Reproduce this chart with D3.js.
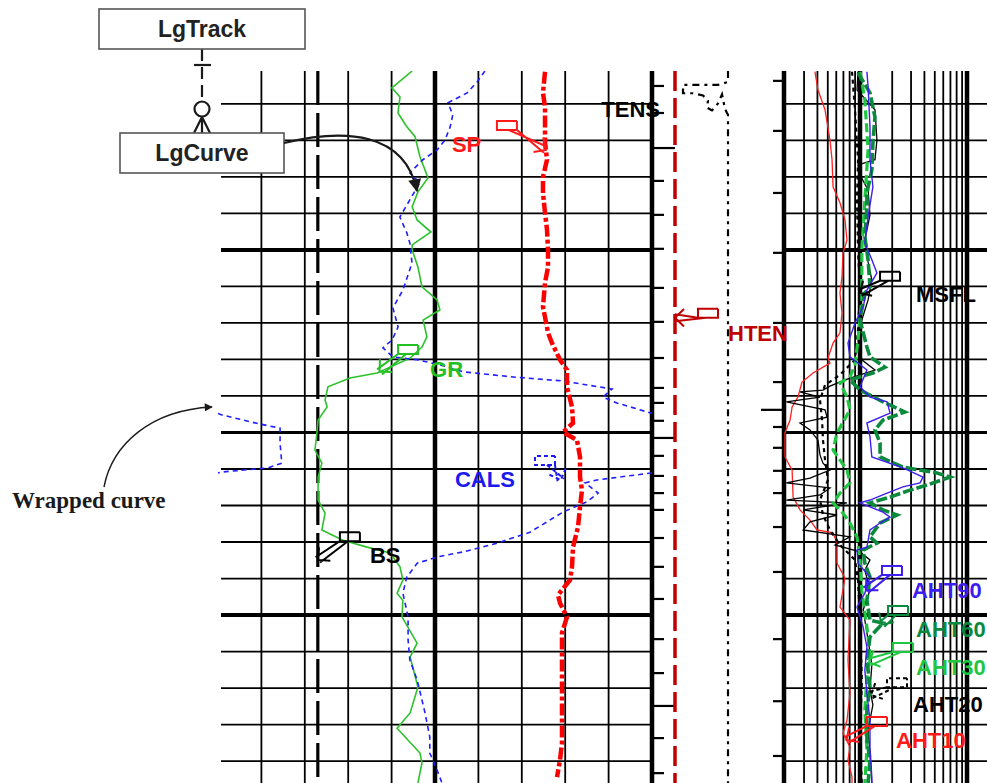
<!DOCTYPE html>
<html><head><meta charset="utf-8">
<script src="https://cdn.jsdelivr.net/npm/d3@7"></script>
<style>body{margin:0;background:#fff}svg{display:block}</style>
</head><body>
<svg id="c" width="987" height="783"></svg>
<script>
// ---------------- DATA ----------------
// depth (ft), value
const GR = [[1051.0,67.1],[1055.6,60.1],[1058.1,62.9],[1062.5,62.2],[1066.0,65.0],[1069.0,68.1],[1074.5,69.8],[1080.3,72.6],[1084.1,69.1],[1088.2,67.1],[1091.8,68.8],[1095.1,73.6],[1098.6,67.1],[1100.0,67.1],[1104.7,69.1],[1110.1,70.5],[1113.7,75.7],[1116.4,76.7],[1119.2,70.9],[1123.8,72.2],[1126.6,70.5],[1129.6,66.4],[1132.1,59.5],[1133.7,55.0],[1135.1,45.6],[1137.5,38.0],[1141.1,37.0],[1143.0,37.7],[1146.6,34.6],[1150.1,34.2],[1154.8,33.5],[1158.4,35.9],[1162.2,34.6],[1168.5,34.6],[1172.1,37.0],[1176.7,35.9],[1179.5,43.2],[1181.4,51.5],[1183.0,59.5],[1186.8,62.9],[1190.4,63.9],[1194.0,61.9],[1196.0,63.9],[1200.5,63.6],[1207.7,68.8],[1211.5,66.4],[1219.7,69.1],[1226.8,66.4],[1231.0,61.9],[1237.8,69.8],[1240.5,70.5],[1246.0,69.1]];
const CALS = [[1051.0,12.15],[1054.0,11.97],[1057.0,11.74],[1059.7,11.30],[1063.0,11.41],[1066.3,11.35],[1069.9,11.23],[1072.6,11.05],[1075.3,10.72],[1078.9,10.42],[1081.6,10.65],[1086.3,10.42],[1091.0,10.19],[1095.3,10.35],[1098.1,10.42],[1103.6,10.47],[1111.0,10.26],[1115.9,10.03],[1121.1,10.15],[1124.7,10.01],[1126.8,9.80],[1129.3,10.03],[1130.1,10.59],[1131.5,11.12],[1133.4,11.65],[1134.8,12.80],[1135.9,13.95],[1138.1,15.08],[1140.3,14.87],[1141.9,15.19],[1144.7,15.98],[1145.2,16.09],[1147.7,16.97],[1148.8,17.43],[1152.9,17.43],[1158.4,17.47],[1159.7,17.15],[1160.8,16.12],[1161.1,15.98],[1163.0,14.73],[1163.8,14.46],[1166.6,14.76],[1169.0,14.50],[1171.8,13.95],[1177.3,13.19],[1180.3,12.43],[1182.7,11.65],[1184.1,11.05],[1185.8,10.59],[1189.6,10.35],[1194.0,10.26],[1200.5,10.38],[1206.8,10.38],[1212.3,10.42],[1217.8,10.59],[1226.8,10.77],[1233.4,10.88],[1237.8,10.88],[1242.5,11.05],[1246.0,11.16]];
const SP = [[1051.2,-4.65],[1057.0,-5.12],[1060.8,-4.65],[1066.3,-4.65],[1070.7,-4.65],[1075.3,-4.19],[1080.0,-5.12],[1084.4,-5.12],[1089.9,-4.65],[1094.5,-4.19],[1100.0,-3.96],[1104.7,-3.96],[1109.0,-4.65],[1115.6,-5.12],[1118.4,-4.65],[1122.7,-3.96],[1125.5,-3.04],[1130.1,-1.20],[1132.9,0.41],[1137.5,0.41],[1143.0,1.57],[1147.4,1.80],[1149.9,-0.51],[1152.1,2.72],[1156.7,3.41],[1162.2,3.41],[1165.8,3.87],[1170.4,3.41],[1175.9,2.95],[1181.4,1.80],[1186.8,1.57],[1190.4,1.11],[1194.5,-1.66],[1196.7,-1.20],[1200.5,0.41],[1204.9,-0.74],[1211.5,-0.74],[1217.0,-0.74],[1224.1,-0.74],[1229.6,-0.74],[1235.1,-0.74],[1239.7,-1.20],[1244.4,-1.89]];
const BS = [[1051.0,8.3],[1246.0,8.3]];
const HTEN = [[1051.0,871],[1246.0,871]];
const TENS = [[1051.0,2879],[1054.0,2879],[1054.8,2500],[1054.8,1174],[1057.1,1174],[1057.1,1553],[1057.7,1932],[1059.1,2121],[1061.0,2083],[1061.8,2273],[1059.9,2500],[1057.4,2652],[1061.4,2765],[1062.5,2841],[1063.0,2879],[1246.0,2879]];
const AHT10 = [[1051.2,3.79],[1056.2,4.05],[1061.6,4.71],[1069.9,5.24],[1075.3,5.48],[1082.7,5.60],[1087.1,6.50],[1091.8,7.24],[1097.3,7.56],[1100.8,6.94],[1107.4,6.79],[1111.8,6.50],[1117.3,6.79],[1122.7,6.50],[1125.5,5.60],[1129.6,5.02],[1131.0,5.24],[1133.7,3.64],[1136.2,2.87],[1140.3,2.63],[1143.0,2.32],[1146.6,2.22],[1150.1,1.99],[1156.7,1.99],[1160.3,2.32],[1167.7,2.37],[1171.2,2.75],[1174.0,3.41],[1176.7,3.96],[1177.5,5.60],[1180.3,6.10],[1185.8,6.10],[1189.9,7.24],[1197.8,6.50],[1201.4,8.06],[1212.3,7.72],[1221.4,8.06],[1228.8,7.56],[1232.3,6.94],[1236.2,8.06],[1239.7,7.72],[1244.4,8.42],[1246.0,8.42]];
const AHT20 = [[1051.2,9.58],[1056.2,9.38],[1061.6,13.8],[1069.9,14.4],[1075.3,13.8],[1076.7,9.58],[1079.5,10.0],[1083.6,11.9],[1090.4,12.4],[1097.3,11.1],[1103.3,11.9],[1108.2,12.9],[1113.7,11.9],[1119.2,10.4],[1124.7,9.58],[1130.1,10.4],[1132.9,13.8],[1134.2,10.0],[1135.6,7.24],[1137.3,5.24],[1138.4,4.51],[1138.9,2.75],[1140.3,4.23],[1141.6,2.05],[1143.8,4.71],[1145.8,4.92],[1147.4,2.75],[1149.3,3.41],[1152.1,4.05],[1156.2,4.23],[1158.4,4.51],[1160.3,5.24],[1162.5,3.41],[1163.8,2.05],[1165.2,5.24],[1167.1,4.23],[1168.5,2.05],[1169.3,7.56],[1171.2,2.94],[1172.6,6.10],[1174.5,3.41],[1176.7,2.94],[1178.6,8.06],[1180.8,5.85],[1182.7,10.0],[1184.9,12.4],[1187.7,11.1],[1193.2,12.4],[1198.6,10.7],[1206.8,11.9],[1213.6,12.9],[1220.5,12.4],[1224.6,13.2],[1231.5,11.9],[1238.3,12.4],[1246.0,12.9]];
const AHT30 = [[1051.2,10.0],[1058.9,11.1],[1072.6,11.9],[1086.3,11.1],[1100.0,10.4],[1113.7,10.4],[1124.7,9.58],[1131.5,8.98],[1134.8,8.06],[1136.4,6.50],[1140.3,7.56],[1143.8,8.06],[1150.1,6.10],[1154.8,5.60],[1160.3,7.56],[1163.8,8.06],[1166.6,6.50],[1169.3,5.60],[1172.1,6.94],[1174.8,8.06],[1178.6,9.38],[1184.9,10.0],[1193.2,10.4],[1203.3,11.6],[1210.4,12.4],[1217.0,11.6],[1226.0,11.1],[1237.0,11.6],[1246.0,11.1]];
const AHT60 = [[1051.5,9.58],[1057.0,12.4],[1063.6,13.8],[1070.7,13.2],[1078.1,12.9],[1084.4,11.6],[1088.2,11.6],[1096.4,11.1],[1102.7,11.9],[1110.1,12.4],[1111.8,11.1],[1119.2,10.0],[1126.6,11.6],[1129.3,12.4],[1132.1,17.1],[1133.7,13.2],[1135.6,8.06],[1138.4,10.0],[1141.6,16.4],[1144.4,26.3],[1146.6,16.4],[1149.3,13.8],[1152.9,15.4],[1156.7,15.4],[1159.5,25.2],[1161.1,52.4],[1162.2,69.4],[1164.4,42.3],[1165.8,29.3],[1167.7,19.1],[1169.3,12.4],[1171.2,16.4],[1172.6,22.2],[1174.8,15.4],[1178.6,12.4],[1180.3,14.4],[1182.2,10.7],[1185.8,11.1],[1189.6,12.4],[1195.9,11.6],[1201.4,12.4],[1202.2,16.4],[1206.0,12.4],[1212.3,11.6],[1219.7,12.4],[1226.0,11.6],[1234.2,11.6],[1239.7,12.4],[1246.0,11.9]];
const AHT90 = [[1051.2,11.6],[1055.3,11.9],[1066.3,12.4],[1075.3,12.4],[1082.7,13.2],[1091.0,11.9],[1098.1,11.1],[1102.7,12.9],[1106.3,14.4],[1111.0,11.6],[1115.6,10.7],[1120.0,8.98],[1125.5,7.72],[1129.3,8.06],[1132.9,11.6],[1137.5,10.0],[1140.3,12.4],[1141.6,17.9],[1144.7,19.1],[1147.4,11.6],[1151.2,12.4],[1156.7,12.9],[1159.7,25.2],[1162.2,38.8],[1163.8,36.4],[1164.9,25.2],[1166.6,17.9],[1168.5,12.4],[1169.3,10.0],[1171.8,16.4],[1173.2,19.1],[1174.8,15.4],[1176.7,12.4],[1181.4,11.6],[1182.2,9.38],[1185.8,9.58],[1189.6,12.4],[1194.0,11.1],[1197.8,9.38],[1203.3,10.7],[1208.8,11.6],[1215.1,11.1],[1221.4,11.6],[1228.8,12.4],[1236.2,12.4],[1244.4,12.9],[1246.0,12.9]];
const MSFL = [[1051.2,8.42],[1061.6,8.98],[1075.3,9.58],[1086.3,9.38],[1100.0,9.58],[1111.0,10.0],[1121.9,9.58],[1130.1,8.98],[1134.2,6.50],[1137.0,4.71],[1141.1,4.23],[1146.6,4.42],[1152.1,4.51],[1157.5,4.71],[1163.0,5.02],[1168.5,4.23],[1172.6,4.51],[1176.7,5.24],[1180.8,6.50],[1184.9,8.98],[1190.4,9.58],[1201.4,10.0],[1217.8,10.4],[1234.2,10.0],[1246.0,10.4]];

const gridDepths = [1060,1070,1080,1090,1100,1110,1120,1130,1140,1150,1160,1170,1180,1190,1200,1210,1220,1230,1240];
const linGridValues = [7,8,9,10,11,12,13,14,15,16];           // caliper units across track 1
const logGridValues = [3,4,5,6,7,8,9,10,20,30,40,50,60,70,80,90,100,200];
const leftTickDepths = [1055.1,1062.5,1072.1,1081.1,1090.4,1099.7,1110.4,1119.7,1129.6,1137.8,1141.9,1146.8,1151.5,1156.4,1161.9,1166.6,1171.2,1178.9,1186.8,1195.6,1206.6,1215.9,1224.9,1233.7,1243.3];
const leftLongTicks = [1072.1,1151.5,1224.9];
const rightTickDepths = [1053.7,1067.4,1084.4,1100.8,1120.0,1136.2,1143.8,1148.5,1154.2,1160.5,1166.6,1175.9,1188.2,1206.6,1223.6,1238.6];
const rightLongTicks = [1143.8];

// ---------------- SCALES ----------------
const svg = d3.select("#c");
const yS = d3.scaleLinear().domain([1051, 1246]).range([71, 783]);
const T1 = [218, 652];
const grS = d3.scaleLinear().domain([0, 150]).range(T1);
const calS = d3.scaleLinear().domain([6, 16]).range(T1);
const spS = d3.scaleLinear().domain([-80, 20]).range(T1);
const tenS = d3.scaleLinear().domain([0, 5000]).range([652, 784]);
const resS = d3.scaleLog().domain([1, 100]).range([753, 967]);

const defs = svg.append("defs");
defs.append("clipPath").attr("id","t1").append("rect").attr("x",218).attr("y",71).attr("width",434).attr("height",712);
defs.append("clipPath").attr("id","t4").append("rect").attr("x",784).attr("y",71).attr("width",210).attr("height",712);
defs.append("marker").attr("id","ah").attr("viewBox","0 0 10 10").attr("refX",9).attr("refY",5)
  .attr("markerUnits","userSpaceOnUse").attr("markerWidth",15).attr("markerHeight",13).attr("orient","auto")
  .append("path").attr("d","M0,0L10,5L0,10z").attr("fill","#1a1a1a");
defs.append("marker").attr("id","ah2").attr("viewBox","0 0 10 10").attr("refX",9).attr("refY",5)
  .attr("markerUnits","userSpaceOnUse").attr("markerWidth",10).attr("markerHeight",8).attr("orient","auto")
  .append("path").attr("d","M0,0L10,5L0,10z").attr("fill","#1a1a1a");

// ---------------- GRID ----------------
const grid = svg.append("g");
gridDepths.forEach(d => {
  const w = d % 100 === 0 ? 4 : (d % 50 === 0 ? 3 : 1.8);
  grid.append("line").attr("x1",221).attr("x2",652).attr("y1",yS(d)).attr("y2",yS(d)).attr("stroke","#000").attr("stroke-width",w);
  grid.append("line").attr("x1",784).attr("x2",987).attr("y1",yS(d)).attr("y2",yS(d)).attr("stroke","#000").attr("stroke-width",w);
});
linGridValues.forEach(v => {
  const w = (v === 11 || v === 16) ? 4.5 : 1.8;
  grid.append("line").attr("x1",calS(v)).attr("x2",calS(v)).attr("y1",71).attr("y2",783).attr("stroke","#000").attr("stroke-width",w);
});
logGridValues.forEach(v => {
  const w = (v === 10 || v === 100) ? 4.5 : 1.8;
  grid.append("line").attr("x1",resS(v)).attr("x2",resS(v)).attr("y1",71).attr("y2",783).attr("stroke","#000").attr("stroke-width",w);
});
grid.append("line").attr("x1",784).attr("x2",784).attr("y1",71).attr("y2",783).attr("stroke","#000").attr("stroke-width",4.5);
leftTickDepths.forEach(d => {
  const L = leftLongTicks.includes(d) ? 23 : 12;
  grid.append("line").attr("x1",652).attr("x2",652+L).attr("y1",yS(d)).attr("y2",yS(d)).attr("stroke","#000").attr("stroke-width",2.2);
});
rightTickDepths.forEach(d => {
  const L = rightLongTicks.includes(d) ? 23 : 11;
  grid.append("line").attr("x1",784).attr("x2",784-L).attr("y1",yS(d)).attr("y2",yS(d)).attr("stroke","#000").attr("stroke-width",2.2);
});

// ---------------- CURVES ----------------
function wrapSegments(data, lo, hi) {
  const R = hi - lo, segs = []; let cur = [];
  const k = v => Math.floor((v - lo) / R);
  data.forEach((p, i) => {
    const [d, v] = p;
    if (i > 0) {
      const [d0, v0] = data[i-1]; const k0 = k(v0), k1 = k(v);
      if (k0 !== k1) {
        const b = lo + Math.max(k0, k1) * R;
        const t = (b - v0) / (v - v0), db = d0 + t * (d - d0);
        cur.push([db, k1 > k0 ? hi : lo]); segs.push(cur);
        cur = [[db, k1 > k0 ? lo : hi]];
      }
    }
    cur.push([d, v - k(v) * R]);
  });
  segs.push(cur);
  return segs;
}
function valueAt(data, depth) {
  const i = d3.bisector(p => p[0]).left(data, depth);
  if (i <= 0) return data[0][1];
  if (i >= data.length) return data[data.length-1][1];
  const [d0,v0] = data[i-1], [d1,v1] = data[i];
  return v0 + (v1 - v0) * (depth - d0) / (d1 - d0);
}
const lineFor = xs => d3.line().x(p => xs(p[1])).y(p => yS(p[0]));

const g1 = svg.append("g").attr("clip-path","url(#t1)");
g1.append("path").attr("d", lineFor(calS)(BS)).attr("fill","none").attr("stroke","#000").attr("stroke-width",3.2).attr("stroke-dasharray","34,8");
g1.append("path").attr("d", lineFor(grS)(GR)).attr("fill","none").attr("stroke","#2cc22c").attr("stroke-width",1.6);
wrapSegments(CALS, 6, 16).forEach(seg => {
  g1.append("path").attr("d", lineFor(calS)(seg)).attr("fill","none").attr("stroke","#1f1fff").attr("stroke-width",1.6).attr("stroke-dasharray","5,4");
});
g1.append("path").attr("d", lineFor(spS)(SP)).attr("fill","none").attr("stroke","#ff0000").attr("stroke-width",4.5).attr("stroke-dasharray","12,3,4,3");

const g3 = svg.append("g");
g3.append("path").attr("d", lineFor(tenS)(HTEN)).attr("fill","none").attr("stroke","#c00000").attr("stroke-width",3.5).attr("stroke-dasharray","20,7");
g3.append("path").attr("d", lineFor(tenS)(TENS)).attr("fill","none").attr("stroke","#000").attr("stroke-width",2.2).attr("stroke-dasharray","7,5,3,5");

const g4 = svg.append("g").attr("clip-path","url(#t4)");
const resCurves = [
  {data:AHT10, color:"#ff2020", w:1.3, dash:null},
  {data:MSFL, color:"#000", w:2.2, dash:"4,4"},
  {data:AHT20, color:"#000", w:1.3, dash:null},
  {data:AHT30, color:"#1fc63f", w:3.2, dash:"9,4"},
  {data:AHT60, color:"#0b8a3e", w:3.6, dash:"11,3"},
  {data:AHT90, color:"#3c1ef0", w:1.4, dash:null}
];
resCurves.forEach(c => {
  g4.append("path").attr("d", lineFor(resS)(c.data)).attr("fill","none").attr("stroke",c.color)
    .attr("stroke-width",c.w).attr("stroke-dasharray",c.dash);
});

// ---------------- LABELS + FLAGS ----------------
const labels = [
  {text:"SP", color:"#ff1a1a", scale:spS, value:-26.1, depth:1073.2, anchor:"start", curve:SP, tipDepth:1072.6, flag:[45,-31]},
  {text:"TENS", color:"#000", scale:tenS, value:303, depth:1063.6, anchor:"end"},
  {text:"HTEN", color:"#c00000", scale:tenS, value:2879, depth:1124.9, anchor:"start", curve:HTEN, tipDepth:1118.6, flag:[-30,-32]},
  {text:"GR", color:"#22c022", scale:grS, value:73.3, depth:1134.8, anchor:"start", curve:GR, tipDepth:1133.4, flag:[-32,-32]},
  {text:"CALS", color:"#1a1aee", scale:calS, value:11.46, depth:1164.9, anchor:"start", curve:null, tipDepth:1163.0, tipValue:13.9, flag:[80,-31], dashed:true},
  {text:"BS", color:"#000", scale:calS, value:9.5, depth:1185.8, anchor:"start", curve:BS, tipDepth:1184.9, flag:[-30,-31]},
  {text:"MSFL", color:"#000", scale:resS, value:33.4, depth:1114.2, anchor:"start", curve:MSFL, tipDepth:1111.8, flag:[-36,-30]},
  {text:"AHT90", color:"#3c1ef0", scale:resS, value:30.6, depth:1195.3, anchor:"start", curve:AHT90, tipDepth:1193.2, flag:[-30,-32]},
  {text:"AHT60", color:"#0b8a3e", scale:resS, value:33.4, depth:1206.0, anchor:"start", curve:AHT60, tipDepth:1202.7, flag:[-28,-31]},
  {text:"AHT30", color:"#1fc63f", scale:resS, value:33.4, depth:1216.4, anchor:"start", curve:AHT30, tipDepth:1212.9, flag:[-23,-32]},
  {text:"AHT20", color:"#000", scale:resS, value:31.3, depth:1226.6, anchor:"start", curve:AHT20, tipDepth:1221.9, flag:[-26,-34], dashed:true},
  {text:"AHT10", color:"#ff1a1a", scale:resS, value:21.7, depth:1236.4, anchor:"start", curve:AHT10, tipDepth:1234.2, flag:[-29,-31]}
];
const gl = svg.append("g");
labels.forEach(L => {
  const tx = L.scale(L.value), ty = yS(L.depth);
  if (L.flag) {
    const bx = tx + L.flag[0], by = ty + L.flag[1];
    const tipX = L.scale(L.curve ? valueAt(L.curve, L.tipDepth) : L.tipValue), tipY = yS(L.tipDepth);
    const left = tipX < bx;
    const cx = left ? bx : bx + 20, cy = by + 9;
    const p = d3.path();
    p.moveTo(bx + 20, by); p.lineTo(bx, by); p.lineTo(bx, by + 9); p.lineTo(bx + 20, by + 9); p.lineTo(bx + 20, by);
    const dx = tipX - cx, dy = tipY - cy;
    const len = Math.hypot(dx, dy) || 1, nx = -dy / len * 3.5, ny = dx / len * 3.5;
    p.moveTo(cx, cy); p.lineTo(tipX + nx, tipY + ny);
    p.moveTo(cx + (left ? 8 : -8), cy); p.lineTo(tipX - nx, tipY - ny);
    p.moveTo(tipX - dx/len*9 + nx*2.5, tipY - dy/len*9 + ny*2.5); p.lineTo(tipX, tipY); p.lineTo(tipX - dx/len*9 - nx*2.5, tipY - dy/len*9 - ny*2.5);
    gl.append("path").attr("d", p.toString()).attr("fill","none").attr("stroke",L.color).attr("stroke-width",2)
      .attr("stroke-dasharray", L.dashed ? "4,3" : null);
  }
  gl.append("text").attr("x", tx).attr("y", ty).attr("text-anchor", L.anchor)
    .attr("font-family","'Liberation Sans', Arial, sans-serif").attr("font-weight","bold").attr("font-size",22)
    .attr("fill", L.color).text(L.text);
});

// ---------------- DIAGRAM ANNOTATIONS ----------------
const ga = svg.append("g");
ga.append("line").attr("x1",202).attr("x2",202).attr("y1",49).attr("y2",101).attr("stroke","#1a1a1a").attr("stroke-width",2.2).attr("stroke-dasharray","12,6");
ga.append("line").attr("x1",194).attr("x2",211).attr("y1",65).attr("y2",65).attr("stroke","#1a1a1a").attr("stroke-width",2.2);
ga.append("circle").attr("cx",202).attr("cy",109).attr("r",7.5).attr("fill","#fff").attr("stroke","#1a1a1a").attr("stroke-width",2.2);
ga.append("path").attr("d","M202,117L194,133M202,117L202,133M202,117L210,133").attr("stroke","#1a1a1a").attr("stroke-width",2.2).attr("fill","none");
[["LgTrack",99,9,206,40],["LgCurve",120,133,164,40]].forEach(b => {
  ga.append("rect").attr("x",b[1]).attr("y",b[2]).attr("width",b[3]).attr("height",b[4]).attr("fill","#fff").attr("stroke","#555").attr("stroke-width",1.6);
  ga.append("text").attr("x",b[1]+b[3]/2).attr("y",b[2]+b[4]/2+8).attr("text-anchor","middle")
    .attr("font-family","'Liberation Sans', Arial, sans-serif").attr("font-weight","bold").attr("font-size",23).attr("fill","#222").text(b[0]);
});
ga.append("path").attr("d","M284,143C345,128 405,132 417,191").attr("fill","none").attr("stroke","#1a1a1a").attr("stroke-width",2.2).attr("marker-end","url(#ah)");
ga.append("path").attr("d","M104,487C112,445 150,410 212,407").attr("fill","none").attr("stroke","#1a1a1a").attr("stroke-width",1.4).attr("marker-end","url(#ah2)");
ga.append("text").attr("x",12).attr("y",508).attr("font-family","'Liberation Serif','Times New Roman',serif").attr("font-weight","bold")
  .attr("font-size",23).attr("fill","#1a1a1a").text("Wrapped curve");
</script>
</body></html>
